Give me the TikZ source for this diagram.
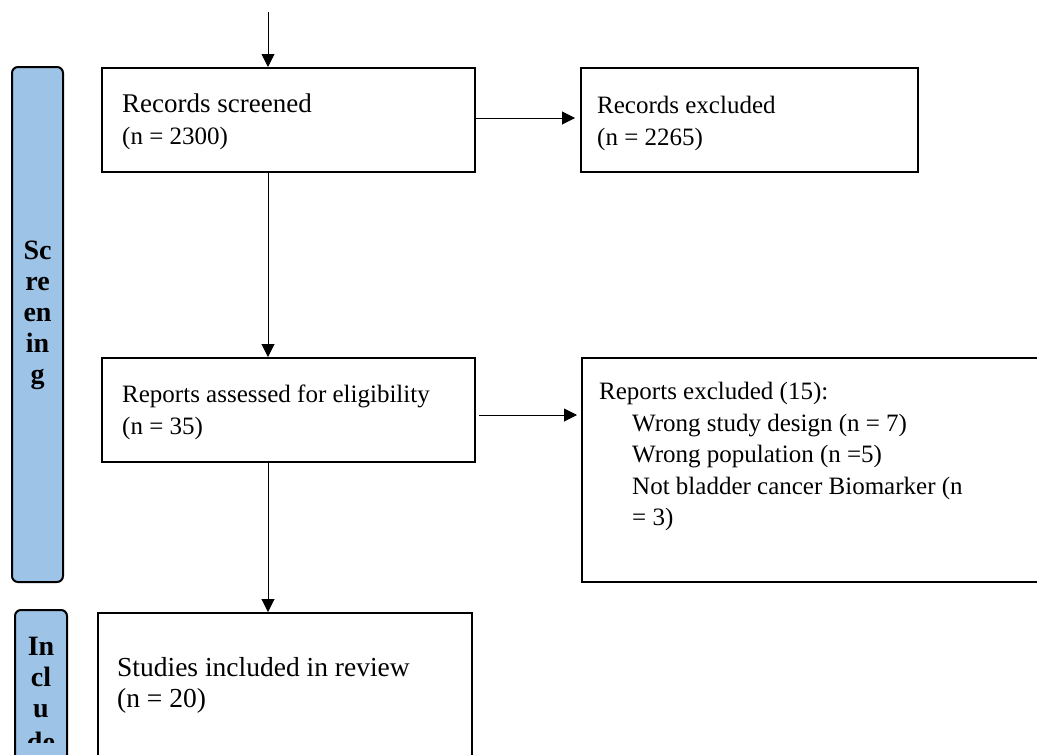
\documentclass[tikz,border=0pt]{standalone}
\usepackage{fontspec}
\setmainfont{Liberation Serif}
\usepackage{tikz}
\usetikzlibrary{arrows.meta}
\definecolor{barblue}{RGB}{157,195,230}

\begin{document}
\begin{tikzpicture}[x=1pt, y=-1pt,
    box/.style={shape=rectangle, draw, line width=2pt, inner sep=0pt},
    bar/.style={shape=rectangle, draw, line width=2pt, rounded corners=6pt, fill=barblue, inner sep=0pt},
    txt/.style={anchor=base west, align=left, inner sep=0pt, font=\fontsize{25}{31.5}\selectfont},
    stage/.style={anchor=base, align=center, inner sep=0pt, font=\fontsize{28}{31}\selectfont\bfseries},
    conn/.style={-{Triangle[length=13pt, width=13pt]}, line width=1pt}]
    \useasboundingbox (0,0) rectangle (1037,755);
    \clip (0,0) rectangle (1037,755);
    \node[bar, minimum width=51pt, minimum height=515pt] (P1) at (37.5, 324.5) {};
        \node[stage] at ([shift={(0,317)}]P1.north) {Sc\\re\\en\\in\\g};
    \node[bar, minimum width=52pt, minimum height=180pt] (P2) at (41, 700) {};
    \begin{scope}
        \clip (P2.north west) rectangle (67,742);
        \node[stage] at ([shift={(0,142)}]P2.north) {In\\cl\\u\\[3pt]de};
    \end{scope}
    \node[box, minimum width=373pt, minimum height=104pt] (R1) at (288.5, 120) {};
        \node[txt] at ([shift={(21,77)}]R1.north west) {{\fontsize{27}{31.5}\selectfont Records screened}\\(n = 2300)};
    \node[box, minimum width=337pt, minimum height=104pt] (R2) at (749.5, 120) {};
        \node[txt] at ([shift={(17,78)}]R2.north west) {Records excluded\\(n = 2265)};
    \node[box, minimum width=373pt, minimum height=104pt] (R3) at (288.5, 410) {};
        \node[txt] at ([shift={(21,77)}]R3.north west) {Reports assessed for eligibility\\(n = 35)};
    \node[box, minimum width=468pt, minimum height=224pt] (R4) at (816, 470) {};
        \node[txt] at ([shift={(18,42)}]R4.north west) {Reports excluded (15):};
        \node[txt] at ([shift={(51,168.5)}]R4.north west) {Wrong study design (n = 7)\\Wrong population (n =5)\\Not bladder cancer Biomarker (n\\= 3)};
    \node[box, minimum width=374pt, minimum height=167pt] (R5) at (285, 696.5) {};
        \node[txt, font=\fontsize{27.5}{31}\selectfont] at ([shift={(20,95)}]R5.north west) {Studies included in review\\(n = 20)};
    \coordinate (T0) at (268, 12);
    \draw[conn] (T0) -- (T0 |- R1.north);
    \draw[conn] (T0 |- R1.south) -- (T0 |- R3.north);
    \draw[conn] (T0 |- R3.south) -- (T0 |- R5.north);
    \draw[conn, shorten >=5pt] ([yshift=2pt]R1.east) -- ([yshift=2pt]R2.west);
    \draw[conn, shorten >=4pt] ([shift={(3,5)}]R3.east) -- ([yshift=-5pt]R3.east -| R4.west);
\end{tikzpicture}
\end{document}
